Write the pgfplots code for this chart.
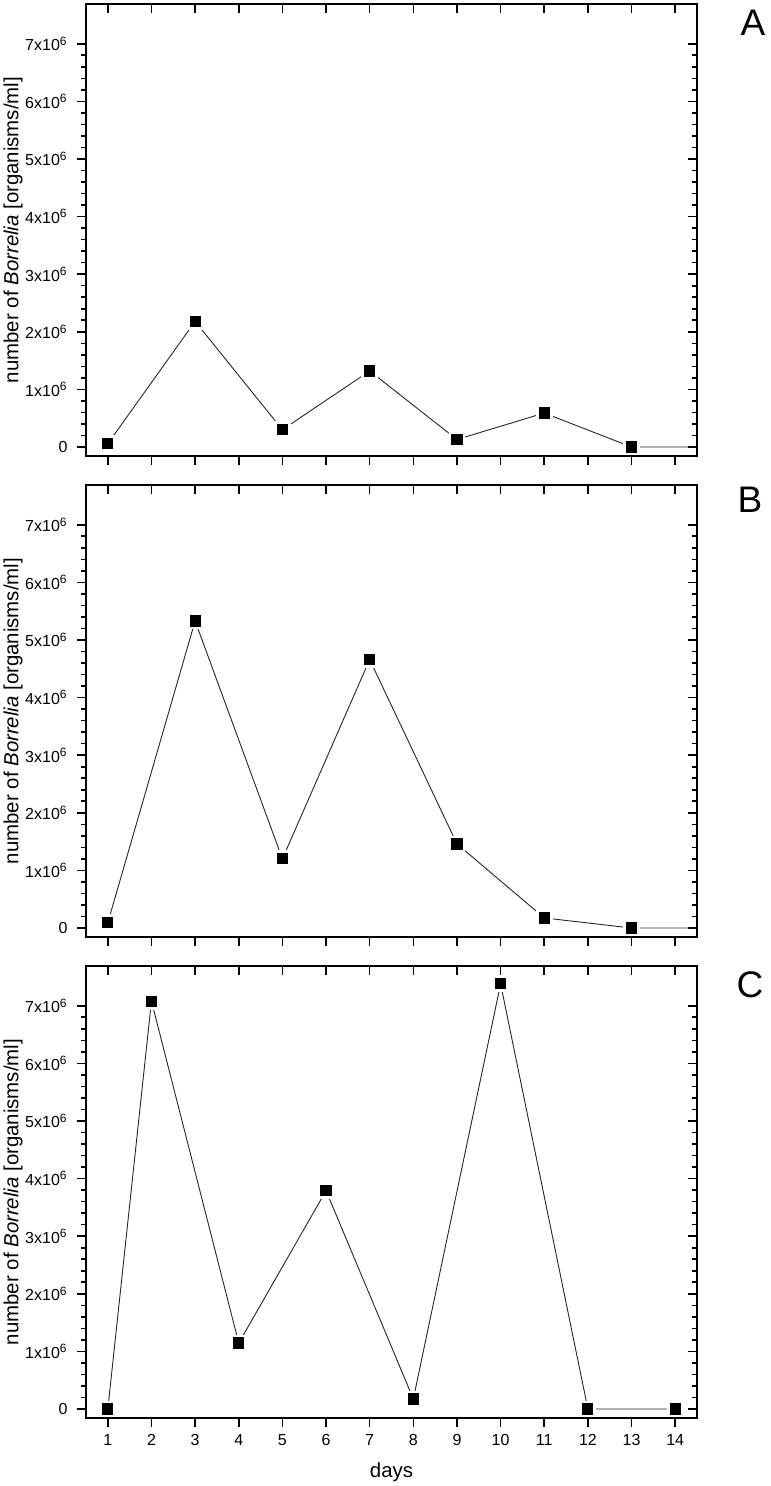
\documentclass[border=0pt]{standalone}
\usepackage{pgfplots}
\pgfplotsset{compat=1.18}
\usepackage{fontspec}
\setmainfont{Liberation Sans}

\pgfplotsset{
  common/.style={
    scale only axis, width=305.5pt, height=226pt,
    xmin=0.5, xmax=14.5, ymin=-156000, ymax=7690000,
    xtick={1,...,14},
    ytick={0,1000000,2000000,3000000,4000000,5000000,6000000,7000000},
    minor y tick num=4,
    scaled y ticks=false,
    /pgf/number format/assume math mode=true,
    major tick length=4.5pt, minor tick length=2.5pt,
    every tick/.style={black, line width=0.8pt},
    axis line style={black, line width=1pt},
    clip=false,
  },
  main/.style={
    common,
    xtick pos=bottom, ytick pos=left, tick align=outside,
    yticklabels={0,1x10\textsuperscript{6},2x10\textsuperscript{6},3x10\textsuperscript{6},4x10\textsuperscript{6},5x10\textsuperscript{6},6x10\textsuperscript{6},7x10\textsuperscript{6}},
    yticklabel style={font=\fontsize{8}{9}\selectfont, anchor=east, inner sep=0pt, xshift=-4.5pt},
    xticklabel style={font=\fontsize{8}{9}\selectfont, anchor=north, inner sep=0pt, yshift=-3.5pt},
    ylabel={number of \textit{Borrelia} [organisms/ml]},
    ylabel style={font=\fontsize{10.2}{12}\selectfont, at={(axis description cs:-0.1107,0.5)}, anchor=base},
  },
  mirror/.style={
    common,
    xtick pos=top, ytick pos=right, tick align=inside,
    xticklabels={}, yticklabels={},
  },
  series/.style={
    black!85, line width=0.45pt,
    mark=square*, mark size=3.5pt,
    mark options={solid, fill=black, draw=white, line width=1.4pt},
  },
}

\begin{document}
\begin{tikzpicture}
\useasboundingbox (0,0) rectangle (385pt,-743pt);

% ---------- Panel A ----------
\begin{axis}[mirror, at={(43pt,-2pt)}, anchor=north west]
\end{axis}
\begin{axis}[main, at={(43pt,-2pt)}, anchor=north west, xticklabels={}]
\addplot[series, mark indices={1,2,3,4,5,6,7}] coordinates {
  (1,58000) (3,2180000) (5,300000) (7,1320000) (9,130000) (11,590000) (13,0) (14.5,0)
};
\end{axis}
\node[font=\fontsize{18.5}{20}\selectfont, anchor=north, inner sep=0pt] at (376.5pt,-5pt) {A};

% ---------- Panel B ----------
\begin{axis}[mirror, at={(43pt,-242.5pt)}, anchor=north west]
\end{axis}
\begin{axis}[main, at={(43pt,-242.5pt)}, anchor=north west, xticklabels={}]
\addplot[series, mark indices={1,2,3,4,5,6,7}] coordinates {
  (1,93000) (3,5330000) (5,1200000) (7,4660000) (9,1460000) (11,175000) (13,0) (14.5,0)
};
\end{axis}
\node[font=\fontsize{18.5}{20}\selectfont, anchor=north, inner sep=0pt] at (375pt,-243.5pt) {B};

% ---------- Panel C ----------
\begin{axis}[mirror, at={(43pt,-483pt)}, anchor=north west]
\end{axis}
\begin{axis}[main, at={(43pt,-483pt)}, anchor=north west,
  xlabel={days},
  xlabel style={font=\fontsize{10.2}{12}\selectfont, at={(axis description cs:0.5,-0.1327)}, anchor=base},
]
\addplot[series] coordinates {
  (1,0) (2,7080000) (4,1145000) (6,3790000) (8,174000) (10,7380000) (12,0) (14,0)
};
\end{axis}
\node[font=\fontsize{18.5}{20}\selectfont, anchor=north, inner sep=0pt] at (375pt,-485.5pt) {C};
\end{tikzpicture}
\end{document}
